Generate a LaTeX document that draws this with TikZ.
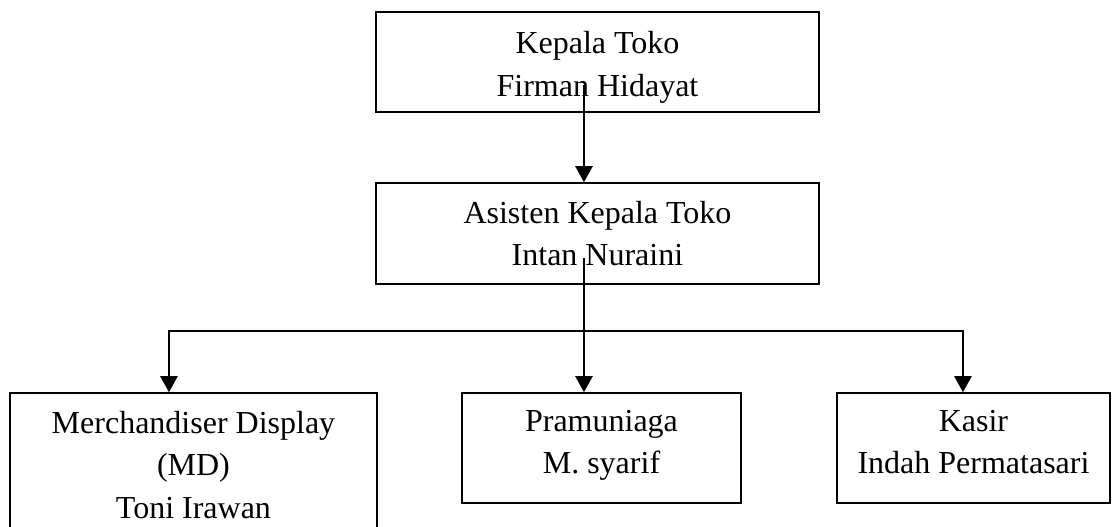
\documentclass[tikz,border=0pt]{standalone}
\usepackage{fontspec}
\setmainfont{Liberation Serif}
\usetikzlibrary{arrows.meta}

\begin{document}
\begin{tikzpicture}[
    jabatan/.style={draw,line width=0.6pt,inner sep=0pt,align=center,font=\fontsize{12}{15.9}\selectfont},
    panah/.style={line width=0.8pt,-{Triangle[width=6.4pt,length=6pt]}},
    panahdua/.style={line width=0.8pt,{Triangle[width=6.4pt,length=6pt]}-{Triangle[width=6.4pt,length=6pt]}}
  ]
    \useasboundingbox (0,0) rectangle (14.683,6.933);
    \node [jabatan,minimum width=5.839cm,minimum height=1.318cm] (KT) at (7.875,6.116) {\rule{0pt}{12.4pt}Kepala Toko\\Firman Hidayat};
    \node [jabatan,minimum width=5.839cm,minimum height=1.331cm] (AKT) at (7.875,3.855) {Asisten Kepala Toko\\Intan Nuraini};
    \node [jabatan,minimum width=4.837cm,minimum height=1.898cm] (MD) at (2.550,0.804) {Merchandiser Display\\(MD)\\Toni Irawan};
    \node [jabatan,minimum width=3.677cm,minimum height=1.450cm] (PR) at (7.928,1.028) {Pramuniaga\\M. syarif\rule[-4.4pt]{0pt}{4.4pt}};
    \node [jabatan,minimum width=3.598cm,minimum height=1.450cm] (KS) at (12.831,1.028) {Kasir\\Indah Permatasari\rule[-4.4pt]{0pt}{4.4pt}};

    \coordinate (s1) at (7.697,5.812);
    \coordinate (s2) at (7.697,3.532);
    \coordinate (hl) at (2.227,2.570);
    \coordinate (hr) at (12.692,2.570);

    \draw[panah] (s1)--(s1 |- AKT.north);
    \draw[panah] (s2)--(s2 |- PR.north);
    \draw[panahdua] (hl |- MD.north)--(hl)--(hr)--(hr |- KS.north);
\end{tikzpicture}
\end{document}
